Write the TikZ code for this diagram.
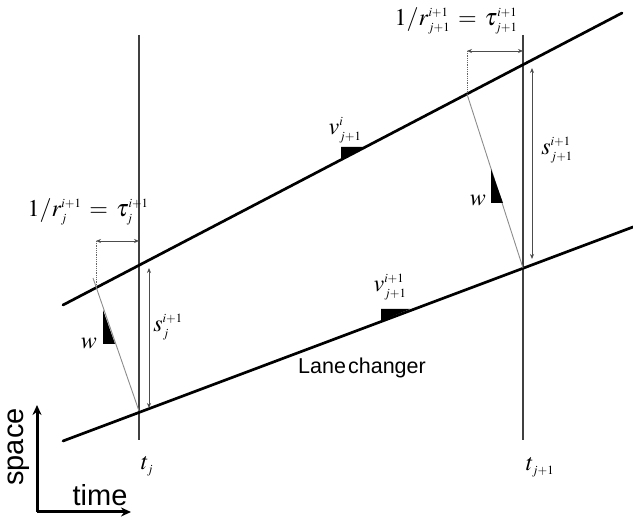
\documentclass[tikz,border=0pt]{standalone}
\usepackage{mathptmx}
\usepackage{fontspec}
\setmainfont{Liberation Serif}
\newfontfamily\arial{Liberation Sans}
\DeclareMathSizes{24}{24}{12.5}{9}
\usetikzlibrary{arrows.meta}
\begin{document}
\begin{tikzpicture}[x=1pt,y=-1pt,
  traj/.style={line width=2.7pt, black, line cap=round},
  timeline/.style={line width=1.3pt, black!75},
  wave/.style={line width=0.9pt, black!45},
  dimarrow/.style={line width=0.8pt, black!70, {Stealth[length=5pt,width=4pt]}-{Stealth[length=5pt,width=4pt]}},
  dotline/.style={densely dotted, line width=0.8pt, black!60},
  tri/.style={fill=black},
  lbl/.style={font=\fontsize{24}{27}\selectfont, inner sep=0pt},
  axisarrow/.style={draw=black, line width=3pt, -{Stealth[length=10pt,width=9pt]}},
  sans/.style={font=\arial\fontsize{#1}{#1}\selectfont, inner sep=0pt},
  ]
\useasboundingbox (0,0) rectangle (633,518);
% time lines
\coordinate (tjtop) at (139,35);   \coordinate (tjbot) at (139,440);
\coordinate (tktop) at (523,35);   \coordinate (tkbot) at (523,440);
\draw[timeline] (tjtop) -- (tjbot);
\draw[timeline] (tktop) -- (tkbot);
% trajectories
\coordinate (lead0) at (63,305);  \coordinate (lead1) at (622,13);
\coordinate (lc0) at (63,441);    \coordinate (lc1) at (633,227);
\draw[traj] (lead0) -- (lead1);
\draw[traj] (lc0) -- (lc1);
% wave lines
\coordinate (wa0) at (93,278);  \coordinate (wa1) at (139,411);
\coordinate (wb0) at (467,94);  \coordinate (wb1) at (523,268);
\draw[wave] (wa0) -- (wa1);
\draw[wave] (wb0) -- (wb1);
% dotted verticals
\coordinate (da0) at (96,241); \coordinate (da1) at (96,288);
\coordinate (db0) at (467,51); \coordinate (db1) at (467,94);
\draw[dotline] (da0) -- (da1);
\draw[dotline] (db0) -- (db1);
% tau arrows
\coordinate (ta1) at (139,241);
\coordinate (tb1) at (523,51);
\draw[dimarrow] (da0) -- (ta1);
\draw[dimarrow] (db0) -- (tb1);
% spacing arrows
\coordinate (sa0) at (149,268); \coordinate (sa1) at (149,408);
\coordinate (sb0) at (532,68);  \coordinate (sb1) at (532,259);
\draw[dimarrow] (sa0) -- (sa1);
\draw[dimarrow] (sb0) -- (sb1);
% slope triangles
\fill[tri] (103,310) -- (103,344) -- (115,344) -- cycle;
\fill[tri] (491,169) -- (491,203) -- (503,203) -- cycle;
\fill[tri] (341,147) -- (366,147) -- (341,159.5) -- cycle;
\fill[tri] (381,309) -- (410,309) -- (381,321) -- cycle;
% labels
\node[lbl] (taua) at (88,212) {$1/r_j^{i+1}\mskip2mu=\mskip2mu\tau_j^{i+1}$};
\node[lbl] (taub) at (456,21) {$1/r_{j+1}^{i+1}\mskip2mu=\mskip2mu\tau_{j+1}^{i+1}$};
\node[lbl] (sa) at (168,327) {$s_j^{i+1}$};
\node[lbl] (sb) at (557,150) {$s_{j+1}^{i+1}$};
\node[lbl] (wa) at (89,343) {$w$};
\node[lbl] (wb) at (478,200) {$w$};
\node[lbl] (va) at (345,130) {$v_{j+1}^{i}$};
\node[lbl] (vb) at (390,287) {$v_{j+1}^{i+1}$};
\node[lbl] (tj) at (147,466) {$t_j$};
\node[lbl] (tk) at (540,467) {$t_{j+1}$};
\node[sans=21.5] (lane) at (362,368) {Lane\hspace{0.1em}changer};
% axes
\coordinate (o) at (37,512);
\coordinate (ytop) at (37,405);
\coordinate (xend) at (131,512);
\draw[axisarrow] (o) -- (ytop);
\draw[axisarrow] (o) -- (xend);
\node[sans=29, rotate=90] (space) at (19,447) {space};
\node[sans=29] (time) at (100,495) {time};
\end{tikzpicture}
\end{document}
